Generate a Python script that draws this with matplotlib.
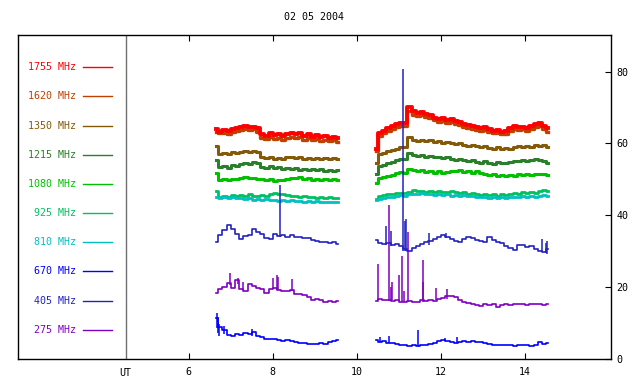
import numpy as np
import matplotlib
matplotlib.use("Agg")
import matplotlib.pyplot as plt

title = "02 05 2004"
freqs = ["1755", "1620", "1350", "1215", "1080", "925", "810", "670", "405", "275"]
colors = ["#ff0000", "#c04000", "#845a08", "#2a7f2a", "#00c000",
          "#00c060", "#00c0c0", "#0000ff", "#2222c0", "#8000c0"]

# sample times (UT hours) of the two observing blocks
t_a = np.linspace(6.65, 9.55, 30)
t_b = np.linspace(10.45, 14.55, 42)

f1755_a = [64.0, 63.2, 63.8, 63.4, 64.0, 64.3, 64.6, 65.0, 64.5, 64.7, 64.2, 62.6, 62.2, 62.8, 62.3,
           62.6, 62.0, 62.7, 63.0, 62.5, 62.9, 62.2, 62.5, 61.9, 62.3, 61.8, 62.1, 61.6, 61.9, 61.4]
f1755_b = [58.5, 63.0, 63.6, 64.2, 64.8, 65.3, 65.6, 65.8, 70.2, 69.0, 68.5, 68.8, 68.3, 68.0, 67.2,
           66.8, 67.0, 66.5, 66.8, 66.3, 66.0, 65.5, 65.2, 64.9, 64.6, 64.3, 64.5, 64.0, 63.6, 63.8,
           63.2, 63.4, 64.2, 64.8, 64.5, 64.7, 64.3, 64.8, 65.3, 65.6, 64.8, 64.2]

f1620_a = [63.2, 62.8, 63.0, 62.6, 63.2, 63.5, 63.8, 64.1, 63.7, 63.9, 63.3, 61.6, 61.3, 61.8, 61.2,
           61.5, 61.0, 61.6, 61.9, 61.4, 61.8, 61.1, 61.4, 60.9, 61.2, 60.8, 61.0, 60.6, 60.9, 60.5]
f1620_b = [58.0, 62.2, 62.8, 63.4, 64.0, 64.5, 64.8, 65.0, 69.0, 68.0, 67.6, 67.8, 67.4, 67.0, 66.4,
           66.0, 66.2, 65.7, 65.9, 65.5, 65.2, 64.7, 64.4, 64.1, 63.8, 63.5, 63.7, 63.2, 62.9, 63.0,
           62.5, 62.7, 63.4, 64.0, 63.7, 63.9, 63.5, 64.0, 64.5, 64.8, 64.0, 63.3]

f1350_a = [59.3, 57.0, 57.4, 57.1, 57.5, 57.3, 57.7, 57.9, 57.6, 57.8, 57.5, 56.2, 55.9, 56.3, 55.8,
           56.0, 55.7, 56.1, 56.3, 55.9, 56.2, 55.8, 56.0, 55.6, 56.0, 55.7, 55.9, 55.6, 55.9, 55.7]
f1350_b = [54.5, 57.0, 57.3, 57.8, 58.2, 58.6, 58.9, 59.1, 61.8, 61.0, 60.8, 61.0, 60.6, 60.9, 60.4,
           60.6, 60.2, 60.5, 60.1, 59.8, 60.0, 59.6, 59.4, 59.7, 59.2, 59.0, 59.3, 58.8, 58.6, 58.9,
           58.4, 58.7, 58.5, 58.9, 59.2, 58.9, 59.3, 59.0, 59.5, 59.2, 59.6, 58.9]

f1215_a = [55.5, 53.4, 53.8, 53.3, 53.9, 53.7, 54.2, 54.5, 54.3, 54.8, 54.5, 53.5, 53.2, 53.6, 53.1,
           53.4, 53.0, 53.3, 52.8, 53.1, 52.7, 53.0, 52.6, 52.9, 52.5, 52.8, 52.3, 52.7, 52.4, 52.6]
f1215_b = [51.5, 53.8, 54.1, 54.6, 54.9, 55.3, 55.6, 55.8, 57.3, 56.8, 56.5, 56.8, 56.3, 56.5, 56.1,
           56.3, 55.9, 56.1, 55.8, 55.5, 55.7, 55.3, 55.0, 55.3, 54.9, 54.7, 55.0, 54.6, 54.4, 54.8,
           54.5, 54.7, 54.9, 55.2, 55.0, 55.3, 55.1, 55.5, 55.8, 55.4, 55.2, 54.6]

f1080_a = [51.8, 49.8, 50.1, 49.7, 50.2, 50.0, 50.4, 50.6, 50.3, 50.5, 50.2, 50.0, 49.7, 50.1, 49.6,
           49.9, 49.7, 50.2, 50.5, 50.3, 50.6, 50.1, 50.3, 49.9, 50.2, 49.8, 50.1, 49.7, 50.0, 49.8]
f1080_b = [49.0, 50.3, 50.6, 50.9, 51.3, 51.8, 52.0, 51.9, 52.8, 52.5, 52.2, 52.6, 52.1, 52.3, 51.9,
           52.2, 51.8, 52.1, 52.4, 52.2, 52.5, 52.1, 52.3, 51.9, 52.2, 51.7, 51.5, 51.2, 51.5, 51.0,
           51.3, 50.9, 51.2, 51.0, 51.4, 51.2, 51.5, 51.3, 51.6, 51.4, 51.5, 51.1]

f925_a = [46.8, 45.2, 45.5, 45.1, 45.6, 45.3, 45.7, 45.4, 45.8, 45.5, 45.3, 45.7, 45.4, 45.9, 46.1,
          45.8, 46.0, 45.6, 45.3, 45.5, 45.1, 45.3, 45.0, 45.2, 44.9, 45.1, 44.8, 45.0, 44.7, 44.9]
f925_b = [44.6, 45.4, 45.6, 45.8, 45.9, 46.1, 46.2, 46.3, 46.6, 47.1, 46.7, 46.9, 46.6, 46.8, 46.5,
          46.7, 46.4, 46.6, 46.8, 46.5, 46.2, 46.4, 46.0, 46.2, 45.9, 45.7, 46.0, 45.6, 45.8, 45.5,
          45.8, 45.6, 45.9, 46.2, 46.0, 46.4, 46.1, 46.5, 46.3, 46.7, 47.0, 46.8]

f810_a = [45.2, 44.9, 45.1, 44.8, 45.0, 44.7, 44.9, 44.5, 44.7, 44.4, 44.6, 44.3, 44.5, 44.2, 44.4,
          44.1, 44.3, 44.0, 44.2, 43.9, 44.1, 43.8, 44.0, 43.7, 43.9, 43.6, 43.8, 43.6, 43.8, 43.7]
f810_b = [44.3, 44.6, 44.8, 45.0, 45.2, 45.4, 45.6, 45.5, 45.8, 46.0, 45.8, 46.1, 45.9, 46.0, 45.7,
          45.9, 45.6, 45.8, 45.5, 45.7, 45.4, 45.6, 45.3, 45.5, 45.2, 45.0, 45.2, 44.9, 45.1, 44.8,
          45.0, 44.8, 45.0, 45.2, 45.0, 45.3, 45.1, 45.4, 45.2, 45.5, 45.6, 45.4]

f670_a = [11.5, 9.0, 8.2, 6.8, 6.4, 7.0, 6.6, 7.2, 6.9, 7.6, 6.3, 6.0, 5.7, 5.5, 5.6,
          5.2, 5.0, 5.4, 4.9, 4.6, 4.4, 4.5, 4.2, 4.3, 4.1, 4.4, 4.2, 4.6, 5.0, 5.4]
f670_b = [5.2, 4.8, 5.0, 4.4, 4.5, 4.2, 3.8, 3.9, 3.6, 3.9, 3.7, 3.9, 3.8, 4.2, 4.4,
          4.9, 5.3, 4.9, 4.8, 4.5, 4.8, 5.0, 4.7, 4.9, 4.6, 4.8, 4.5, 4.2, 4.0, 3.8,
          4.0, 3.8, 3.9, 3.7, 3.9, 3.8, 3.9, 3.7, 3.9, 4.6, 4.3, 4.5]

f405_a = [32.6, 34.5, 35.8, 37.2, 36.3, 34.8, 33.4, 34.2, 34.6, 36.2, 35.4, 34.8, 33.6, 33.3, 34.9,
          34.2, 34.6, 34.1, 34.5, 34.0, 33.9, 33.6, 33.7, 33.1, 32.8, 32.5, 32.6, 32.2, 32.6, 32.0]
f405_b = [33.0, 32.2, 32.0, 32.4, 31.8, 32.1, 31.5, 30.6, 30.0, 30.8, 31.5, 32.0, 32.6, 32.9, 33.3,
          34.0, 34.6, 34.0, 33.4, 32.8, 32.5, 33.5, 34.0, 33.7, 33.0, 32.8, 32.6, 34.0, 33.1, 32.6,
          32.3, 31.4, 30.8, 30.4, 31.6, 31.8, 31.1, 31.4, 30.6, 30.2, 29.8, 30.5]

f275_a = [18.3, 19.4, 20.1, 21.2, 19.8, 21.9, 19.6, 18.8, 21.0, 20.4, 19.9, 19.6, 18.5, 19.5, 19.8,
          19.2, 19.0, 18.8, 19.3, 18.2, 18.0, 17.8, 17.3, 16.3, 16.8, 16.5, 16.0, 16.2, 15.9, 16.1]
f275_b = [16.2, 16.6, 16.3, 16.5, 16.1, 16.4, 16.0, 15.9, 16.2, 15.8, 16.0, 16.3, 16.1, 16.4, 16.2,
          16.6, 17.0, 17.4, 17.6, 17.2, 16.5, 16.0, 15.6, 15.3, 15.0, 14.8, 15.2, 15.0, 15.4, 14.6,
          15.0, 15.3, 15.1, 15.4, 15.2, 15.3, 15.1, 15.3, 15.2, 15.4, 15.1, 15.2]

# short bursts: time, low, high
sp405_t = [8.17, 10.69, 10.81, 11.10, 11.13, 11.17, 11.72, 12.12, 14.41, 14.50, 14.52]
sp405_lo = [34.0, 31.8, 31.5, 30.0, 30.0, 30.0, 31.8, 33.8, 30.0, 29.5, 29.2]
sp405_hi = [48.5, 37.0, 35.7, 80.8, 38.5, 38.9, 35.2, 35.0, 33.3, 32.2, 32.8]
sp275_t = [6.98, 7.18, 7.30, 8.01, 8.09, 8.13, 8.46, 10.51, 10.77, 10.81, 10.84, 11.01, 11.08,
           11.11, 11.22, 11.56, 11.58, 11.87, 12.15]
sp275_lo = [20.5, 21.0, 19.2, 19.4, 19.2, 19.2, 19.0, 16.3, 16.2, 16.3, 16.3, 16.2, 16.0,
            16.0, 16.0, 16.0, 16.2, 16.3, 16.6]
sp275_hi = [23.9, 22.5, 21.4, 22.5, 23.4, 22.8, 22.3, 26.5, 42.9, 20.1, 21.4, 23.4, 28.7,
            18.9, 35.4, 27.6, 21.5, 19.8, 19.5]
sp670_t = [6.67, 6.70, 6.73, 6.84, 7.50, 10.55, 10.75, 11.44, 12.10, 12.39]
sp670_lo = [8.5, 7.2, 6.5, 7.0, 6.3, 4.8, 4.4, 3.7, 5.0, 4.5]
sp670_hi = [12.8, 11.6, 9.8, 9.2, 8.3, 6.0, 6.4, 8.2, 5.8, 6.0]

series_a = [f1755_a, f1620_a, f1350_a, f1215_a, f1080_a, f925_a, f810_a, f670_a, f405_a, f275_a]
series_b = [f1755_b, f1620_b, f1350_b, f1215_b, f1080_b, f925_b, f810_b, f670_b, f405_b, f275_b]
spikes = {7: (sp670_t, sp670_lo, sp670_hi), 8: (sp405_t, sp405_lo, sp405_hi),
          9: (sp275_t, sp275_lo, sp275_hi)}

mono = "DejaVu Sans Mono"
fs = 7.2

fig = plt.figure(figsize=(6.4, 3.84), dpi=100)
ax = fig.add_axes([18 / 640, 25 / 384, 593 / 640, 324 / 384])

zord = [4, 3, 3, 3, 3, 3, 3, 3, 5, 3]
widths = [2.8, 2.4, 2.2, 2.2, 2.2, 2.0, 2.0, 1.2, 1.2, 1.2]
for i in range(len(freqs)):
    ax.plot(t_a, series_a[i], color=colors[i], lw=widths[i], zorder=zord[i], drawstyle="steps-mid")
    ax.plot(t_b, series_b[i], color=colors[i], lw=widths[i], zorder=zord[i], drawstyle="steps-mid")
    if i in spikes:
        st, slo, shi = spikes[i]
        ax.vlines(st, slo, shi, color=colors[i], lw=1.1, zorder=zord[i])

    # legend on the left
    ly = 81.2 - 8.12 * i
    ax.text(3.31, ly, freqs[i] + " MHz", color=colors[i], ha="right", va="center",
            fontsize=fs, family=mono)
    ax.plot([3.48, 4.17], [ly, ly], color=colors[i], lw=1)

ax.axvline(4.5, color="#707070", lw=1)
ax.text(4.5, -0.028, "UT", transform=ax.get_xaxis_transform(), ha="center", va="top",
        fontsize=fs, family=mono)

ax.set_xlim(1.94, 16.04)
ax.set_ylim(0, 90.2)
ax.set_xticks([6, 8, 10, 12, 14])
ax.set_yticks([0, 20, 40, 60, 80])
ax.tick_params(axis="x", direction="in", top=True, bottom=True, length=4, pad=6,
               labelsize=fs)
ax.tick_params(axis="y", direction="in", left=False, right=True, labelleft=False,
               labelright=True, length=4, pad=4, labelsize=fs)
for lab in ax.get_xticklabels() + ax.get_yticklabels():
    lab.set_family(mono)
for s in ax.spines.values():
    s.set_linewidth(1)

fig.text(314.5 / 640, 1 - 17 / 384, title, ha="center", va="center", fontsize=fs, family=mono)

fig.savefig("out.png", dpi=100)
